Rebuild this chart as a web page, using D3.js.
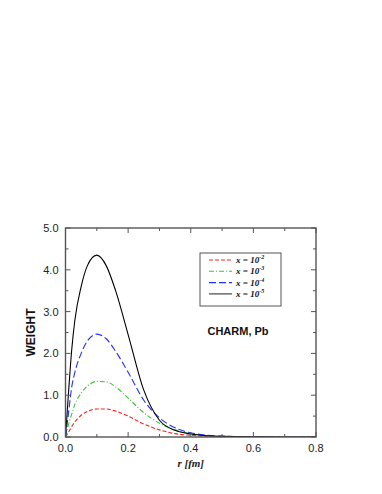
<!DOCTYPE html>
<html>
<head>
<meta charset="utf-8">
<script src="https://cdn.jsdelivr.net/npm/d3@7"></script>
<style>
  body { margin: 0; background: #fff; }
  svg { display: block; }
  .tick-label { font-family: "Liberation Sans", Arial, sans-serif; font-size: 11px; fill: #222; }
</style>
</head>
<body>
<svg width="382" height="494"></svg>
<script>
// r grid [fm]
const radii = [0, 0.01, 0.02, 0.03, 0.05, 0.07, 0.1, 0.13, 0.16, 0.2, 0.25, 0.3, 0.35, 0.4, 0.45, 0.5, 0.6, 0.7, 0.8];
// weights
const weightX2 = [0, 0.12, 0.25, 0.36, 0.52, 0.61, 0.67, 0.67, 0.62, 0.5, 0.31, 0.17, 0.08, 0.04, 0.02, 0.01, 0.003, 0.001, 0];
const weightX3 = [0, 0.3, 0.55, 0.78, 1.05, 1.22, 1.33, 1.32, 1.2, 0.93, 0.58, 0.33, 0.17, 0.08, 0.035, 0.015, 0.004, 0.001, 0];
const weightX4 = [0, 0.6, 1.2, 1.55, 2.0, 2.3, 2.46, 2.35, 2.05, 1.55, 0.88, 0.46, 0.22, 0.1, 0.045, 0.02, 0.005, 0.001, 0];
const weightX5 = [0, 1.1, 2.1, 2.8, 3.6, 4.1, 4.35, 4.1, 3.5, 2.45, 1.12, 0.4, 0.16, 0.07, 0.03, 0.014, 0.004, 0.001, 0];

const seriesExp = ['-2', '-3', '-4', '-5'];
const seriesVals = [weightX2, weightX3, weightX4, weightX5];
const seriesColor = ['#ff2020', '#40c040', '#2030ff', '#000000'];
const seriesDash = ['4,2', '5,2,1,2', '7,3', null];

const xTicks = [0, 0.2, 0.4, 0.6, 0.8];
const yTicks = [0, 1, 2, 3, 4, 5];

const svg = d3.select('svg');
const plotLeft = 65.5, plotRight = 316, plotTop = 228, plotBottom = 437;

const x = d3.scaleLinear().domain([0, 0.8]).range([plotLeft, plotRight]);
const y = d3.scaleLinear().domain([0, 5]).range([plotBottom, plotTop]);

const frameColor = '#555';

// curves
const line = d3.line()
  .x((d, i) => x(radii[i]))
  .y(d => y(d))
  .curve(d3.curveMonotoneX);

const plot = svg.append('g');
plot.append('defs').append('clipPath').attr('id', 'clip')
  .append('rect').attr('x', plotLeft).attr('y', plotTop)
  .attr('width', plotRight - plotLeft).attr('height', plotBottom - plotTop);

seriesVals.forEach((vals, k) => {
  plot.append('path')
    .attr('clip-path', 'url(#clip)')
    .attr('d', line(vals))
    .attr('fill', 'none')
    .attr('stroke', seriesColor[k])
    .attr('stroke-width', 1.1)
    .attr('stroke-dasharray', seriesDash[k]);
});

// frame
svg.append('rect')
  .attr('x', plotLeft).attr('y', plotTop)
  .attr('width', plotRight - plotLeft).attr('height', plotBottom - plotTop)
  .attr('fill', 'none').attr('stroke', frameColor).attr('stroke-width', 1.4);

// ticks (inside, all four sides)
const ticks = svg.append('g').attr('stroke', frameColor).attr('stroke-width', 1);
d3.range(0, 0.81, 0.1).forEach(v => {
  const major = Math.round(v * 10) % 2 === 0;
  const len = major ? 5 : 3;
  ticks.append('line').attr('x1', x(v)).attr('x2', x(v)).attr('y1', plotBottom).attr('y2', plotBottom - len);
  ticks.append('line').attr('x1', x(v)).attr('x2', x(v)).attr('y1', plotTop).attr('y2', plotTop + len);
});
d3.range(0, 5.01, 0.5).forEach(v => {
  const major = Math.round(v * 2) % 2 === 0;
  const len = major ? 5 : 3;
  ticks.append('line').attr('x1', plotLeft).attr('x2', plotLeft + len).attr('y1', y(v)).attr('y2', y(v));
  ticks.append('line').attr('x1', plotRight).attr('x2', plotRight - len).attr('y1', y(v)).attr('y2', y(v));
});

// tick labels
svg.append('g').selectAll('text').data(xTicks).join('text')
  .attr('class', 'tick-label')
  .attr('x', d => x(d)).attr('y', plotBottom + 15)
  .attr('text-anchor', 'middle')
  .text(d => d.toFixed(1));

svg.append('g').selectAll('text').data(yTicks).join('text')
  .attr('class', 'tick-label')
  .attr('x', plotLeft - 7).attr('y', d => y(d) + 4)
  .attr('text-anchor', 'end')
  .text(d => d.toFixed(1));

// axis titles
svg.append('text')
  .attr('x', x(0.4)).attr('y', plotBottom + 30)
  .attr('text-anchor', 'middle')
  .attr('font-family', '"Liberation Serif", "Times New Roman", serif')
  .attr('font-style', 'italic').attr('font-weight', 'bold').attr('font-size', 11)
  .attr('fill', '#222')
  .text('r [fm]');

svg.append('text')
  .attr('transform', `translate(35, ${y(2.5)}) rotate(-90)`)
  .attr('text-anchor', 'middle')
  .attr('font-family', '"Liberation Sans", Arial, sans-serif')
  .attr('font-weight', 'bold').attr('font-size', 12)
  .attr('fill', '#111')
  .text('WEIGHT');

svg.append('text')
  .attr('x', 238).attr('y', 335)
  .attr('text-anchor', 'middle')
  .attr('font-family', '"Liberation Sans", Arial, sans-serif')
  .attr('font-weight', 'bold').attr('font-size', 11)
  .attr('fill', '#111')
  .text('CHARM, Pb');

// legend
const legend = svg.append('g');
legend.append('rect')
  .attr('x', 200).attr('y', 253).attr('width', 81).attr('height', 53)
  .attr('fill', '#fff').attr('stroke', frameColor).attr('stroke-width', 1);

seriesExp.forEach((e, k) => {
  const ly = 260 + k * 11.3;
  legend.append('line')
    .attr('x1', 209).attr('x2', 232).attr('y1', ly).attr('y2', ly)
    .attr('stroke', seriesColor[k] === '#000000' ? '#333' : seriesColor[k])
    .attr('stroke-width', 1.1)
    .attr('stroke-dasharray', seriesDash[k]);
  const t = legend.append('text')
    .attr('x', 236).attr('y', ly + 3)
    .attr('font-family', '"Liberation Serif", "Times New Roman", serif')
    .attr('font-style', 'italic').attr('font-weight', 'bold').attr('font-size', 9)
    .attr('fill', '#111');
  t.append('tspan').text('x = 10');
  t.append('tspan').attr('dy', -4).attr('font-size', 6).text(e);
});
</script>
</body>
</html>
